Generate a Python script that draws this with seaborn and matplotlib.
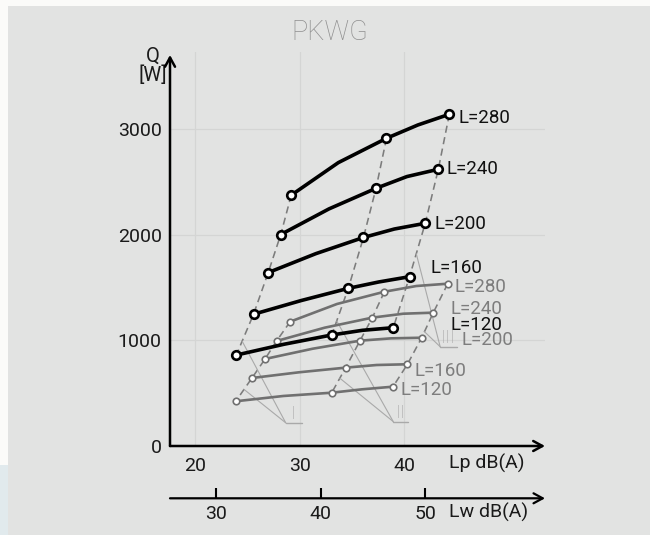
import numpy as np
import pandas as pd
import matplotlib
matplotlib.use("Agg")
import matplotlib.pyplot as plt
import seaborn as sns
from matplotlib.patches import Rectangle

sns.set_theme(style="white")
plt.rcParams['font.family'] = ['Roboto', 'DejaVu Sans']

# ---------------- data ----------------
labels = ["L=280", "L=240", "L=200", "L=160", "L=120"]

# first model (black curves). Each curve: operating point, curve point read between,
# operating point, curve point read between, operating point.
black_lp = {
    "L=280": [29.2, 33.7, 38.3, 41.3, 44.3],
    "L=240": [28.2, 32.8, 37.3, 40.25, 43.25],
    "L=200": [27.0, 31.55, 36.1, 39.05, 42.0],
    "L=160": [25.6, 30.13, 34.65, 37.55, 40.5],
    "L=120": [23.95, 28.5, 33.07, 36.0, 38.95],
}
black_q = {
    "L=280": [2372, 2680, 2910, 3036, 3137],
    "L=240": [2000, 2242, 2437, 2548, 2617],
    "L=200": [1640, 1819, 1972, 2052, 2106],
    "L=160": [1246, 1375, 1491, 1551, 1601],
    "L=120": [860, 962, 1050, 1094, 1119],
}
# second model (grey curves), same layout
grey_lp = {
    "L=280": [29.1, 33.57, 38.1, 41.15, 44.15],
    "L=240": [27.8, 32.4, 36.95, 39.9, 42.77],
    "L=200": [26.7, 31.25, 35.77, 38.73, 41.66],
    "L=160": [25.45, 29.94, 34.4, 37.36, 40.3],
    "L=120": [23.9, 28.45, 33.07, 35.96, 38.92],
}
grey_q = {
    "L=280": [1176, 1343, 1459, 1513, 1535],
    "L=240": [993, 1119, 1214, 1251, 1261],
    "L=200": [823, 920, 996, 1018, 1024],
    "L=160": [643, 697, 741, 766, 773],
    "L=120": [423, 473, 504, 536, 561],
}
op_idx = [0, 2, 4]           # which entries are the marked operating points
speed_labels = ["I", "II", "III"]

lp_ticks = [20, 30, 40]
lw_ticks = [30, 40, 50]
q_ticks = [0, 1000, 2000, 3000]
lw_offset = 8.0  # Lw = Lp + 8

# ---------------- figure ----------------
W, H = 650, 535
fig = plt.figure(figsize=(W / 100, H / 100), dpi=100)
fig.patch.set_facecolor("#fbfbf9")
BG = "#e2e3e2"
fig.patches.append(Rectangle((8 / W, 0), 1, 1 - 6 / H, transform=fig.transFigure,
                             facecolor=BG, edgecolor="none", zorder=-10))
# faint photo remnant on the far left
fig.patches.append(Rectangle((0, 0), 8 / W, 0.13, transform=fig.transFigure,
                             facecolor="#e1eaed", edgecolor="none", zorder=-10))

x_left, x_right = 17.62, 53.44
y_top = 3726

ax = fig.add_axes([170 / W, 1 - 446 / H, 375 / W, 394 / H])
ax.set_facecolor("none")
ax.set_xlim(x_left, x_right)
ax.set_ylim(0, y_top)
for s in ax.spines.values():
    s.set_visible(False)

GRID = "#d4d5d4"
for t in lp_ticks:
    ax.plot([t, t], [0, y_top], color=GRID, lw=0.9, zorder=0)
for t in q_ticks[1:]:
    ax.plot([x_left, x_right], [t, t], color=GRID, lw=0.9, zorder=0)

# axes with arrows
arrow_kw = dict(arrowstyle="->,head_length=0.55,head_width=0.3", color="black", lw=1.8,
                shrinkA=0, shrinkB=0)
ax.annotate("", xy=(x_right, 0), xytext=(x_left, 0), arrowprops=arrow_kw,
            annotation_clip=False, zorder=5)
ax.annotate("", xy=(x_left, 3698), xytext=(x_left, 0), arrowprops=arrow_kw,
            annotation_clip=False, zorder=5)

ax.set_xticks(lp_ticks)
ax.set_xticklabels([str(t) for t in lp_ticks])
ax.set_yticks(q_ticks)
ax.set_yticklabels([str(t) for t in q_ticks])
ax.tick_params(axis="x", length=0, pad=8, labelsize=14, labelcolor="#1a1a1a")
ax.tick_params(axis="y", length=0, pad=6, labelsize=14, labelcolor="#1a1a1a")
ax.set_xlabel("")
ax.set_ylabel("")

ax.text(-17 / 375, (446 - 66) / 394, "Q\n[W]", transform=ax.transAxes, ha="center",
        va="center", fontsize=14.5, color="#1a1a1a", linespacing=1.0)
ax.text((449 - 170) / 375, -17 / 394, "Lp dB(A)", transform=ax.transAxes, ha="left",
        va="center", fontsize=14, color="#1a1a1a")

fig.text(330 / W, 1 - 32 / H, "PKWG", ha="center", va="center", fontsize=19.5,
         color="#8f8f8f", fontweight="light")

# ---------------- dashed connecting lines (speed steps) ----------------
DASH = "#7c7c7c"
for i in op_idx:
    for lp_d, q_d in ((black_lp, black_q), (grey_lp, grey_q)):
        xs = [lp_d[l][i] for l in labels]
        ys = [q_d[l][i] for l in labels]
        sns.lineplot(x=xs, y=ys, ax=ax, sort=False, color=DASH, lw=1.15,
                     linestyle=(0, (4.5, 2.8)), zorder=1)

# leader lines for speed labels I, II, III
LEAD = "#a9a9a9"
# (op index, black pair, fraction, grey pair, fraction, convergence offset px, segment px)
leader_spec = [
    (0, ("L=120", "L=160"), 0.34, ("L=120", "L=160"), 0.51, (41.7, -33.4), 16),
    (2, ("L=120", "L=160"), 0.30, ("L=120", "L=160"), 0.58, (53.4, -43.4), 15),
    (4, ("L=160", "L=200"), 0.43, ("L=200", "L=240"), 0.24, (15.7, -15.0), 17),
]
to_disp = ax.transData.transform
to_data = ax.transData.inverted().transform
for k, (i, bpair, bf, gpair, gf, off, seg) in enumerate(leader_spec):
    b0 = np.array([black_lp[bpair[0]][i], black_q[bpair[0]][i]])
    b1 = np.array([black_lp[bpair[1]][i], black_q[bpair[1]][i]])
    g0 = np.array([grey_lp[gpair[0]][i], grey_q[gpair[0]][i]])
    g1 = np.array([grey_lp[gpair[1]][i], grey_q[gpair[1]][i]])
    pb = to_data(to_disp(b0) + bf * (to_disp(b1) - to_disp(b0)))
    pg = to_data(to_disp(g0) + gf * (to_disp(g1) - to_disp(g0)))
    conv_d = to_disp(pg) + np.array(off)
    conv = to_data(conv_d)
    end = to_data(conv_d + np.array([seg, 0]))
    for p in (pb, pg):
        ax.plot([p[0], conv[0]], [p[1], conv[1]], color=LEAD, lw=0.8, zorder=1)
    ax.plot([conv[0], end[0]], [conv[1], end[1]], color=LEAD, lw=1.0, zorder=1)
    ax.text((conv[0] + end[0]) / 2, conv[1], speed_labels[k], ha="center", va="bottom",
            fontsize=14, color="#a3a3a3", fontweight="light")

# ---------------- curves ----------------
GREY = "#707070"
grey_off = {"L=280": (7, -3), "L=240": (17, 4), "L=200": (40, -2),
            "L=160": (7, -7), "L=120": (8, -3)}
black_off = {"L=280": (9, -4), "L=240": (8, 0), "L=200": (9, -1),
             "L=160": (21, 9), "L=120": (57, 3)}

for l in labels:
    sns.lineplot(x=grey_lp[l], y=grey_q[l], ax=ax, sort=False, color=GREY, lw=1.9,
                 zorder=2)
    sns.scatterplot(x=[grey_lp[l][i] for i in op_idx], y=[grey_q[l][i] for i in op_idx],
                    ax=ax, marker="o", s=22, color="white", edgecolor=GREY,
                    linewidth=1.2, zorder=2.5)
    ax.annotate(l, xy=(grey_lp[l][-1], grey_q[l][-1]), xytext=grey_off[l],
                textcoords="offset pixels", ha="left", va="center", fontsize=13.5,
                color="#7d7d7d", zorder=4)
for l in labels:
    sns.lineplot(x=black_lp[l], y=black_q[l], ax=ax, sort=False, color="black", lw=2.6,
                 zorder=3)
    sns.scatterplot(x=[black_lp[l][i] for i in op_idx], y=[black_q[l][i] for i in op_idx],
                    ax=ax, marker="o", s=38, color="white", edgecolor="black",
                    linewidth=1.9, zorder=3.5)
    ax.annotate(l, xy=(black_lp[l][-1], black_q[l][-1]), xytext=black_off[l],
                textcoords="offset pixels", ha="left", va="center", fontsize=13.5,
                color="#111111", zorder=4)

ax.set_xlim(x_left, x_right)
ax.set_ylim(0, y_top)

# ---------------- Lw axis ----------------
ax2 = fig.add_axes([170 / W, 1 - 498.3 / H, 375 / W, 0.0001])
ax2.set_facecolor("none")
ax2.set_xlim(x_left + lw_offset, x_right + lw_offset)
ax2.set_ylim(0, 1)
for s in ax2.spines.values():
    s.set_visible(False)
ax2.set_yticks([])
ax2.set_xticks(lw_ticks)
ax2.set_xticklabels([str(t) for t in lw_ticks])
ax2.tick_params(axis="x", bottom=True, direction="in", length=7.5, width=1.5,
                color="black", pad=5, labelsize=14, labelcolor="#1a1a1a")
ax2.annotate("", xy=(1, 0), xytext=(0, 0), xycoords="axes fraction",
             arrowprops=dict(arrowstyle="->,head_length=0.55,head_width=0.3",
                             color="black", lw=1.6, shrinkA=0, shrinkB=0),
             annotation_clip=False)
fig.text(449 / W, 1 - 512 / H, "Lw dB(A)", ha="left", va="center", fontsize=14,
         color="#1a1a1a")

fig.savefig("out.png", dpi=100, facecolor=fig.get_facecolor())
